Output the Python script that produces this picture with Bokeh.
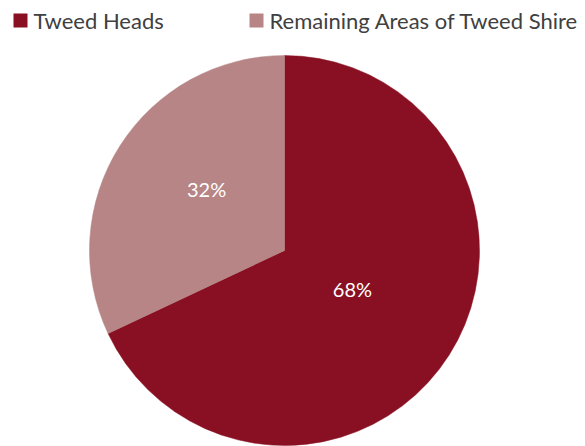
import math
from bokeh.plotting import figure
from bokeh.models import Range1d
from bokeh.core.properties import value
from bokeh.embed import file_html
from bokeh.resources import INLINE

# data
categories = ["Tweed Heads", "Remaining Areas of Tweed Shire"]
shares = [68, 32]
colors = ["#891022", "#B78586"]

W, H = 577, 446
def sy(y):  # screen y (px from top of image) -> data y
    return H - y

p = figure(width=W, height=H, output_backend="svg", toolbar_location=None,
           x_range=Range1d(0, W), y_range=Range1d(0, H),
           min_border=0, outline_line_color=None)
p.axis.visible = False
p.grid.visible = False
p.background_fill_color = "white"
p.border_fill_color = "white"

cx, cy, R = 284, 250, 195
total = sum(shares)
label_r = [0.40, 0.51]
label_nudge = [3, -6]
start = 90.0
for i, (cat, v, c) in enumerate(zip(categories, shares, colors)):
    sweep = v / total * 360.0
    if i == 0:
        a0, a1 = start - sweep, start
        mid = start - sweep / 2
    else:
        a0, a1 = start, start + sweep
        mid = start + sweep / 2
        start += sweep
    p.wedge(x=cx, y=sy(cy), radius=R, start_angle=math.radians(a0), end_angle=math.radians(a1),
            fill_color=c, line_color=c, line_width=0.5)
    ang = math.radians(mid + label_nudge[i])
    lx = cx + label_r[i] * R * math.cos(ang)
    ly = sy(cy) + label_r[i] * R * math.sin(ang)
    p.text(x=[lx], y=[ly], text=[f"{v}%"], text_align="center", text_baseline="middle",
           text_color="white", text_font=value("Lato"), text_font_size="20px")

# legend
leg_x = [13, 249]
for i, (cat, c) in enumerate(zip(categories, colors)):
    p.rect(x=[leg_x[i] + 7], y=[sy(20)], width=14, height=14, fill_color=c, line_color=None)
    p.text(x=[leg_x[i] + 20], y=[sy(20)], text=[cat], text_align="left", text_baseline="middle",
           text_color="#404040", text_font=value("Lato"), text_font_size="22px")

open("out.html", "w").write(file_html(p, INLINE))
